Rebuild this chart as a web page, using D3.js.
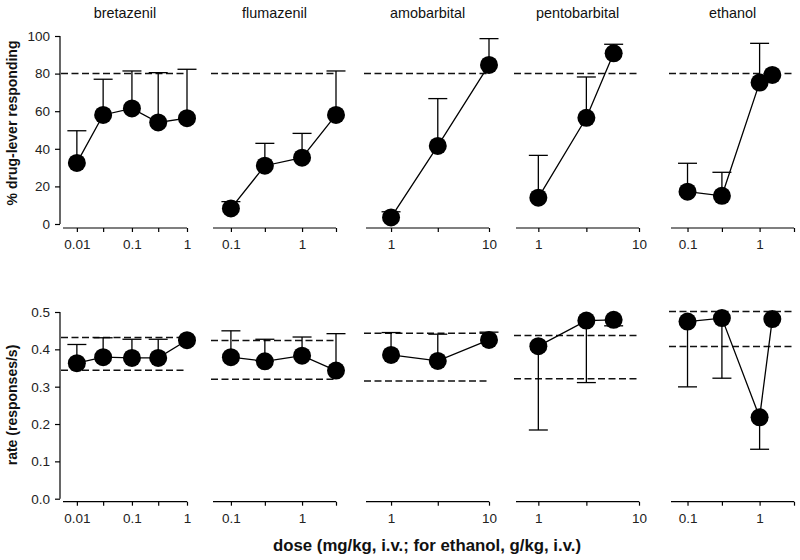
<!DOCTYPE html>
<html><head><meta charset="utf-8">
<script src="https://cdn.jsdelivr.net/npm/d3@7"></script>
<style>body{margin:0;background:#fff}svg{display:block;font-family:"Liberation Sans",Arial,sans-serif}</style>
</head><body><svg id="c" width="800" height="560"></svg>
<script>
const drugs = ["bretazenil","flumazenil","amobarbital","pentobarbital","ethanol"];
const doses = [[0.01,0.03,0.1,0.3,1],[0.1,0.3,1,3],[1,3,10],[1,3,5.6],[0.1,0.3,1,1.5]];
const pctMean = [[32.5,58,61.5,54,56.3],[8.3,31,35.3,58],[3.5,41.5,84.6],[14,56.5,90.8],[17.2,15,75.2,79.3]];
const pctErr  = [[49.6,77,81.4,80.5,82.3],[11.9,42.9,48.2,81.4],[6.5,66.7,98.6],[36.5,78.2,95.6],[32.3,27.5,96.1,null]];
const pctCriterion = [80,80,80,80,80];
const rateMean = [[0.363,0.379,0.377,0.377,0.4245],[0.379,0.368,0.383,0.343],[0.385,0.369,0.4253],[0.4086,0.477,0.479],[0.4745,0.4836,0.218,0.481]];
const rateErr  = [[0.413,0.431,0.427,0.427,null],[0.4496,0.427,0.433,0.442],[0.445,0.4406,0.446],[0.184,0.311,0.463],[0.2995,0.3227,0.1324,null]];
const rateBandHigh = [0.4316,0.4236,0.443,0.437,0.5014];
const rateBandLow  = [0.344,0.32,0.3155,0.321,0.4075];
const xDomains = [[0.0056,1],[0.056,3],[0.555,10],[0.6,10],[0.059,3]];
const xTicks = [[0.01,0.03,0.1,0.3,1],[0.1,0.3,1,3],[1,3,10],[1,3,10],[0.1,0.3,1,3]];
const xTickLabels = [["0.01","","0.1","","1"],["0.1","","1",""],["1","","10"],["1","","10"],["0.1","","1",""]];
const pctTicks = [0,20,40,60,80,100];
const rateTicks = [0,0.1,0.2,0.3,0.4,0.5];

const svg = d3.select("#c");
const panelX = [[63,187],[213,336],[366,489],[516,639],[671,794]];
const yTop = d3.scaleLinear().domain([0,100]).range([224,36]);
const yBot = d3.scaleLinear().domain([0,0.5]).range([498.7,312]);
const R = 9, CAP = 9.5;
const FONT = "Liberation Sans, Arial, sans-serif";

function drawRow(yScale, axisY, means, errs, yTicks, fmt, refLines) {
  drugs.forEach((d,i) => {
    const x = d3.scaleLog().domain(xDomains[i]).range(panelX[i]);
    const g = svg.append("g");
    const ax = d3.axisBottom(x).tickValues(xTicks[i]).tickSize(4)
      .tickFormat((v,k)=>xTickLabels[i][k]);
    const axg = g.append("g").attr("transform",`translate(0,${axisY})`).call(ax);
    axg.select(".domain").attr("d",`M${panelX[i][0]},0H${panelX[i][1]}`).attr("stroke","#000").attr("stroke-width",1.2);
    axg.selectAll(".tick line").attr("stroke","#000").attr("stroke-width",1.2);
    axg.selectAll(".tick text").attr("font-size",13.5).attr("font-family",FONT).attr("fill","#222").attr("dy","1.05em");
    refLines[i].forEach(v => {
      g.append("line").attr("x1",panelX[i][0]-2).attr("x2",panelX[i][1])
        .attr("y1",yScale(v)).attr("y2",yScale(v))
        .attr("stroke","#111").attr("stroke-width",1.5).attr("stroke-dasharray","7,3.5");
    });
    const pts = doses[i].map((dv,k)=>({x:dv,y:means[i][k],e:errs[i][k]}));
    pts.filter(p=>p.e!=null).forEach(p => {
      g.append("line").attr("x1",x(p.x)).attr("x2",x(p.x)).attr("y1",yScale(p.y)).attr("y2",yScale(p.e))
        .attr("stroke","#000").attr("stroke-width",1.3);
      g.append("line").attr("x1",x(p.x)-CAP).attr("x2",x(p.x)+CAP).attr("y1",yScale(p.e)).attr("y2",yScale(p.e))
        .attr("stroke","#000").attr("stroke-width",1.3);
    });
    g.append("path").datum(pts).attr("fill","none").attr("stroke","#000").attr("stroke-width",1.3)
      .attr("d", d3.line().x(p=>x(p.x)).y(p=>yScale(p.y)));
    g.selectAll("circle").data(pts).join("circle").attr("cx",p=>x(p.x)).attr("cy",p=>yScale(p.y)).attr("r",R).attr("fill","#000");
  });
  const yax = d3.axisLeft(yScale).tickValues(yTicks).tickSize(5).tickFormat(fmt);
  const yg = svg.append("g").attr("transform","translate(60,0)").call(yax);
  yg.select(".domain").attr("d",`M0,${yScale.range()[1]}V${yScale.range()[0]}`).attr("stroke","#000").attr("stroke-width",1.2);
  yg.selectAll(".tick line").attr("stroke","#000").attr("stroke-width",1.2);
  yg.selectAll(".tick text").attr("font-size",13.5).attr("font-family",FONT).attr("fill","#222").attr("dx","-0.15em");
}

drawRow(yTop, 228, pctMean, pctErr, pctTicks, d3.format("d"), pctCriterion.map(v=>[v]));
drawRow(yBot, 501.7, rateMean, rateErr, rateTicks, d3.format(".1f"), rateBandHigh.map((v,i)=>[v, rateBandLow[i]]));

drugs.forEach((d,i)=>{
  svg.append("text").attr("x",(panelX[i][0]+panelX[i][1])/2).attr("y",18).attr("text-anchor","middle")
    .attr("font-size",14.4).attr("fill","#111").text(d);
});
svg.append("text").attr("transform","translate(17,123) rotate(-90)").attr("text-anchor","middle")
  .attr("font-size",14).attr("font-weight","bold").attr("fill","#111").text("% drug-lever responding");
svg.append("text").attr("transform","translate(17,405) rotate(-90)").attr("text-anchor","middle")
  .attr("font-size",14).attr("font-weight","bold").attr("fill","#111").text("rate (responses/s)");
svg.append("text").attr("x",427).attr("y",551).attr("text-anchor","middle")
  .attr("font-size",16.8).attr("font-weight","bold").attr("fill","#111").text("dose (mg/kg, i.v.; for ethanol, g/kg, i.v.)");
</script></body></html>
